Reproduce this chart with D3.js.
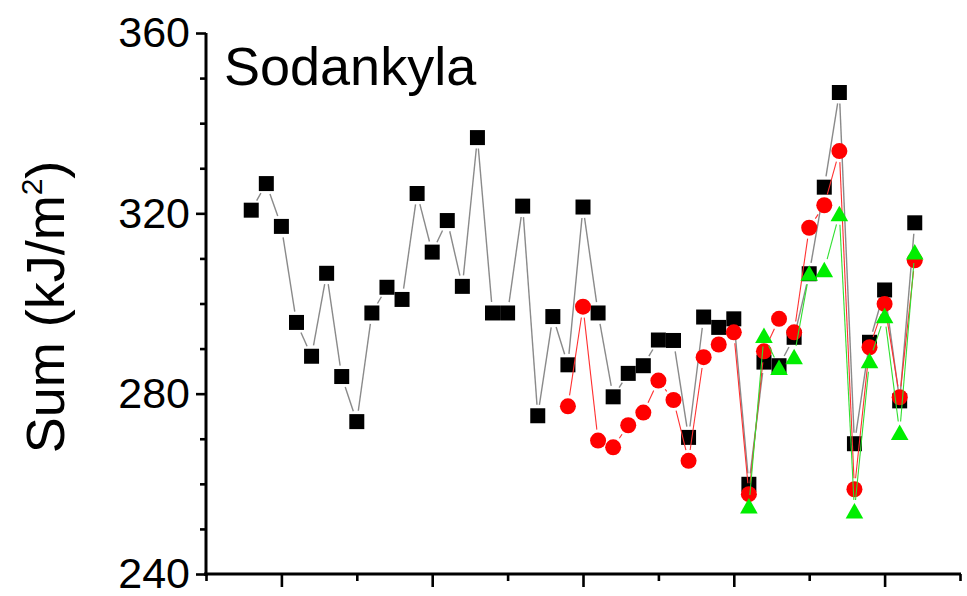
<!DOCTYPE html>
<html>
<head>
<meta charset="utf-8">
<script src="https://cdn.jsdelivr.net/npm/d3@7"></script>
<style>
  html, body { margin: 0; padding: 0; background: #fff; }
  svg { display: block; font-family: "Liberation Sans", Arial, sans-serif; }
</style>
</head>
<body>
<svg id="chart" width="967" height="596"></svg>
<script>
// Annual UV sums at Sodankyla (kJ/m²), three series
const blackYears = [1968,1969,1970,1971,1972,1973,1974,1975,1976,1977,1978,1979,1980,1981,1982,1983,1984,1985,1986,1987,1988,1989,1990,1991,1992,1993,1994,1995,1996,1997,1998,1999,2000,2001,2002,2003,2004,2005,2006,2007,2008,2009,2010,2011,2012];
const blackValues = [320.7,326.6,317.1,295.8,288.3,306.7,283.8,273.8,297.9,303.6,300.9,324.4,311.4,318.4,303.8,336.8,297.9,297.9,321.6,275.1,297.1,286.4,321.4,297.9,279.3,284.5,286.2,291.9,291.8,270.3,297.0,294.7,296.6,259.9,287.0,286.2,292.5,306.6,325.8,346.8,268.9,291.4,303.0,278.4,317.9];

const redYears = [1989,1990,1991,1992,1993,1994,1995,1996,1997,1998,1999,2000,2001,2002,2003,2004,2005,2006,2007,2008,2009,2010,2011,2012];
const redValues = [277.2,299.3,269.6,268.1,273.0,275.8,282.9,278.6,265.1,288.1,290.9,293.6,257.7,289.4,296.6,293.6,316.8,321.8,333.8,258.8,290.3,299.9,279.2,309.6];

const greenYears = [2001,2002,2003,2004,2005,2006,2007,2008,2009,2010,2011,2012];
const greenValues = [255.1,292.9,285.8,288.2,306.7,307.5,319.9,254.0,287.3,297.3,271.4,311.4];

const yMajorTicks = [240, 280, 320, 360];
const yMinorTicks = [250, 260, 270, 290, 300, 310, 330, 340, 350];
const xMajorTicks = [1970, 1980, 1990, 2000, 2010];
const xMinorTicks = [1965, 1975, 1985, 1995, 2005, 2015];
const titleText = "Sodankyla";

const svg = d3.select("#chart");
const plot = { left: 206, right: 960, top: 33, bottom: 574 };

const x = d3.scaleLinear().domain([1965, 2015]).range([plot.left, plot.right]);
const y = d3.scaleLinear().domain([240, 360]).range([plot.bottom, plot.top]);

// Axes
const yAxis = d3.axisLeft(y).tickValues(yMajorTicks).tickSize(10).tickPadding(6);
const yMinor = d3.axisLeft(y).tickValues(yMinorTicks).tickSize(6).tickFormat("");
const xAxis = d3.axisBottom(x).tickValues(xMajorTicks).tickSize(13).tickFormat("");
const xMinor = d3.axisBottom(x).tickValues(xMinorTicks).tickSize(7).tickFormat("");

function styleAxis(g) {
  g.select(".domain").attr("stroke", "#000").attr("stroke-width", 3);
  g.selectAll(".tick line").attr("stroke", "#000").attr("stroke-width", 2.6);
  g.selectAll(".tick text").attr("fill", "#000").attr("font-size", 43)
    .attr("font-family", "'Liberation Sans', Arial, sans-serif");
}

svg.append("g").attr("transform", `translate(${plot.left},0)`).call(yMinor).call(styleAxis)
  .select(".domain").remove();
svg.append("g").attr("transform", `translate(0,${plot.bottom})`).call(xMinor).call(styleAxis)
  .select(".domain").remove();
svg.append("g").attr("transform", `translate(0,${plot.bottom})`).call(xAxis).call(styleAxis)
  .select(".domain").attr("d", `M${plot.left - 2},0H${plot.right + 1}`);
svg.append("g").attr("transform", `translate(${plot.left},0)`).call(yAxis).call(styleAxis)
  .select(".domain").attr("d", `M0,${plot.top}V${plot.bottom + 2}`);

// Y axis title
const yTitle = svg.append("text")
  .attr("transform", "translate(64,307) rotate(-90)")
  .attr("text-anchor", "middle")
  .attr("font-size", 54)
  .attr("fill", "#000");
yTitle.append("tspan").text("Sum (kJ/m");
yTitle.append("tspan").text("2").attr("font-size", 30).attr("dy", -22);
yTitle.append("tspan").text(")").attr("dy", 22);

// Station name
svg.append("text")
  .attr("x", 224).attr("y", 85)
  .attr("font-size", 54)
  .attr("fill", "#000")
  .text(titleText);

// Connecting lines stop short of each symbol, leaving a small gap
function drawSeries(years, values, opts) {
  const pts = years.map((yr, i) => [x(yr), y(values[i])]);
  const g = svg.append("g");
  const segs = d3.pairs(pts);
  g.selectAll("line").data(segs).join("line")
    .each(function([a, b]) {
      const dx = b[0] - a[0], dy = b[1] - a[1];
      const len = Math.hypot(dx, dy);
      const gap = opts.gap;
      const el = d3.select(this);
      if (len <= 2 * gap) { el.remove(); return; }
      const ux = dx / len, uy = dy / len;
      el.attr("x1", a[0] + ux * gap).attr("y1", a[1] + uy * gap)
        .attr("x2", b[0] - ux * gap).attr("y2", b[1] - uy * gap);
    })
    .attr("stroke", opts.line)
    .attr("stroke-width", opts.lineWidth);
  g.selectAll("path.sym").data(pts).join("path")
    .attr("class", "sym")
    .attr("transform", d => `translate(${d[0]},${d[1]})`)
    .attr("d", opts.shape)
    .attr("fill", opts.fill);
}

const squarePath = "M-7.5,-7.5H7.5V7.5H-7.5Z";
const circlePath = d3.symbol(d3.symbolCircle, Math.PI * 8 * 8)();
const trianglePath = "M0,-8L8.8,7.5H-8.8Z";

drawSeries(blackYears, blackValues, { line: "#8a8a8a", lineWidth: 1.4, fill: "#000", shape: squarePath, gap: 11 });
drawSeries(redYears, redValues, { line: "#ff3030", lineWidth: 1.1, fill: "#ff0000", shape: circlePath, gap: 11 });
drawSeries(greenYears, greenValues, { line: "#30e030", lineWidth: 1.1, fill: "#00ee00", shape: trianglePath, gap: 11 });
</script>
</body>
</html>
